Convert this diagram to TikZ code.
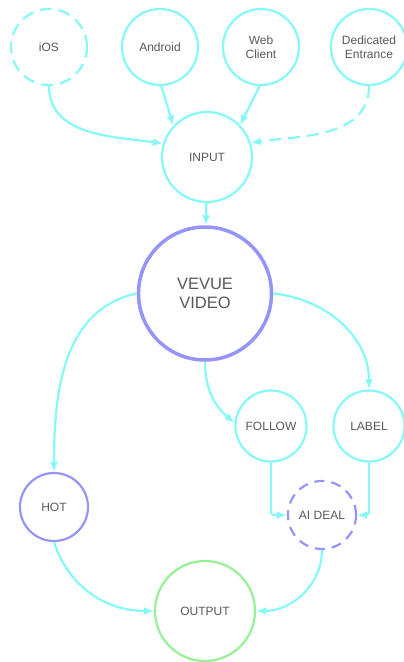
\documentclass[tikz,border=0pt]{standalone}
\usepackage{fontspec}
\setmainfont{Liberation Sans}
\usetikzlibrary{arrows.meta}
\definecolor{flowcyan}{RGB}{134,248,248}
\definecolor{flowviolet}{RGB}{148,148,250}
\definecolor{flowgreen}{RGB}{150,240,150}
\definecolor{labelgray}{RGB}{88,88,88}

\begin{document}
\begin{tikzpicture}[
        x=1pt, y=-1pt,
        >={Latex[length=10pt, width=8pt]},
        every node/.style={font=\fontsize{12}{14}\selectfont, text=labelgray, align=center},
        source/.style={circle, draw=flowcyan, line width=2.2pt, minimum size=76pt, inner sep=0pt},
        gate/.style={circle, draw=flowcyan, line width=2.2pt, minimum size=71pt, inner sep=0pt},
        core/.style={circle, draw=flowviolet, line width=3.5pt, minimum size=133pt, inner sep=0pt, font=\fontsize{16.5}{19}\selectfont},
        stage/.style={circle, draw=flowviolet, line width=2.2pt, minimum size=68pt, inner sep=0pt},
        sink/.style={circle, draw=flowgreen, line width=2.2pt, minimum size=100pt, inner sep=0pt},
        gapline/.style={dash pattern=on 12pt off 7pt},
        arrow/.style={->, draw=flowcyan, line width=2.2pt}
    ]
        \useasboundingbox (0,0) rectangle (404,662);

        \node[source, gapline] (ios) at (49,47) {iOS};
        \node[source] (android) at (160,47) {Android};
        \node[source] (web) at (261,47) {Web\\Client};
        \node[source] (entrance) at (369,47) {Dedicated\\Entrance};
        \node[gate, minimum size=90pt] (input) at (207,157) {INPUT};
        \node[core] (video) at (205,293.5) {VEVUE\\VIDEO};
        \node[gate] (follow) at (271,426) {FOLLOW};
        \node[gate] (label) at (369,426) {LABEL};
        \node[stage] (hot) at (54,507) {HOT};
        \node[stage, dash pattern=on 10pt off 7pt] (aideal) at (322,515) {AI DEAL};
        \node[sink] (output) at (205,611) {OUTPUT};

        \draw[arrow] (ios.south) to[out=-90, in=172] (input.163);
        \draw[arrow] (android.-88) -- (input.137);
        \draw[arrow] (web.-92) -- (input.44);
        \draw[arrow, gapline] (entrance.south) to[out=-90, in=8] (input.18);

        \draw[arrow] (input) -- (video);

        \draw[arrow] (video.west) to[out=192, in=90] (hot.north);
        \draw[arrow] (video.south) to[out=-90, in=140] (follow.175);
        \draw[arrow] (video.east) to[out=-6, in=90] (label.north);

        \draw[arrow, rounded corners=3pt] (follow.south) |- (aideal.west);
        \draw[arrow, rounded corners=3pt] (label.south) |- (aideal.east);

        \draw[arrow] (hot.south) to[out=-72, in=180] (output.west);
        \draw[arrow] (aideal.south) to[out=-90, in=0] (output.east);
    \end{tikzpicture}
\end{document}
